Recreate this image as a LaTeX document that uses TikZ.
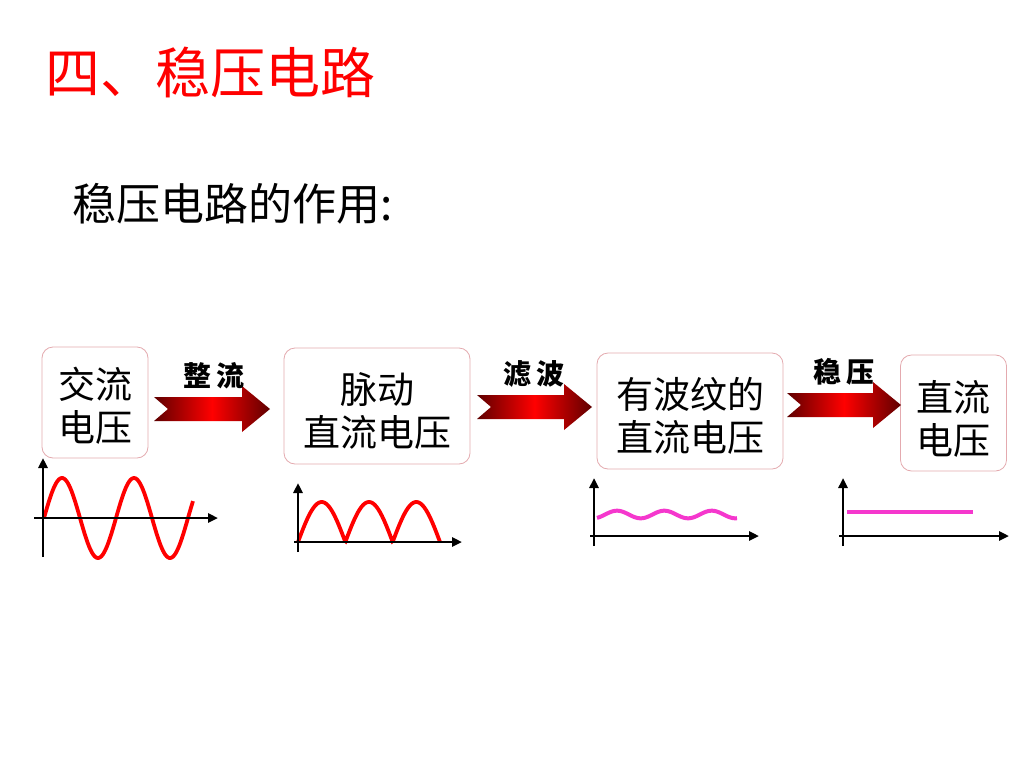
\documentclass[tikz,border=0pt]{standalone}
\usepackage{fontspec}
\newfontfamily\cjk{Noto Sans CJK SC}
\usetikzlibrary{arrows.meta}
\definecolor{boxline}{RGB}{228,170,175}
\definecolor{darkarrow}{RGB}{95,0,0}
\definecolor{pinkline}{RGB}{245,55,205}
\tikzset{
  stagebox/.style={draw=boxline, line width=0.8pt, rounded corners=11pt, fill=white},
  stagetext/.style={font=\cjk\fontsize{37}{43}\selectfont, align=center, inner sep=0pt},
  steplabel/.style={font=\cjk\bfseries\fontsize{28}{30}\selectfont, inner sep=0pt},
  axisline/.style={line width=2.6pt, -{Triangle[length=10pt,width=9pt]}},
  redwave/.style={red, line width=3.8pt},
  pinkwave/.style={pinkline, line width=4pt},
  blockarrow/.style={left color=darkarrow, right color=darkarrow, middle color=red}
}
\newcommand\myblockarrow[3]{% x0, x1, ymid
  \shade[blockarrow] (#1,#3-12) -- (#2-28,#3-12) -- (#2-28,#3-23) -- (#2,#3)
    -- (#2-28,#3+23) -- (#2-28,#3+12) -- (#1,#3+12) -- (#1+14,#3) -- cycle;
}
\begin{document}
\begin{tikzpicture}[x=1pt,y=-1pt]
\useasboundingbox (0,0) rectangle (1024,768);
\fill[white] (0,0) rectangle (1024,768);

% titles
\node[anchor=west, text=red, font=\cjk\fontsize{55}{60}\selectfont, inner sep=0pt] (title) at (45,72) {四、稳压电路};
\node[anchor=west, font=\cjk\fontsize{44}{50}\selectfont, inner sep=0pt] (subtitle) at (72,204) {稳压电路的作用:};

% boxes
\node[stagebox, minimum width=106pt, minimum height=111pt] (b1) at (95,402.5) {};
\node[stagebox, minimum width=186pt, minimum height=116pt] (b2) at (377,406) {};
\node[stagebox, minimum width=186pt, minimum height=116pt] (b3) at (690,411) {};
\node[stagebox, minimum width=106pt, minimum height=116pt] (b4) at (953.5,413) {};

\node[stagetext] (t1) at (95,406) {交流\\电压};
\node[stagetext] (t2) at (377,411) {脉动\\直流电压};
\node[stagetext] (t3) at (690,416) {有波纹的\\直流电压};
\node[stagetext] (t4) at (953.5,419) {直流\\电压};

% block arrows
\myblockarrow{154}{270}{409}
\myblockarrow{477}{592}{407}
\myblockarrow{787}{901}{405}

\node[steplabel] (l1) at (214,376) {整\hspace{5pt}流};
\node[steplabel] (l2) at (534,374) {滤\hspace{5pt}波};
\node[steplabel] (l3) at (844,372) {稳\hspace{5pt}压};

% graph 1: AC sine
\coordinate (g1o) at (43,557);
\coordinate (g1y) at (43,458);
\coordinate (g1a) at (34,518);
\coordinate (g1x) at (218,518);
\draw[redwave] plot[domain=44:193, samples=120, smooth] (\x, {518 - 40*sin((\x-44)*5)});
\draw[axisline] (g1o) -- (g1y);
\draw[axisline] (g1a) -- (g1x);

% graph 2: rectified
\coordinate (g2o) at (298,552);
\coordinate (g2y) at (298,483);
\coordinate (g2a) at (294,542);
\coordinate (g2x) at (462,542);
\draw[redwave] plot[domain=298:440, samples=150] (\x, {542 - 40*abs(sin((\x-298)*3.8028))});
\draw[axisline] (g2o) -- (g2y);
\draw[axisline] (g2a) -- (g2x);

% graph 3: ripple
\coordinate (g3o) at (594,546);
\coordinate (g3y) at (594,478);
\coordinate (g3a) at (590,536);
\coordinate (g3x) at (759,536);
\draw[pinkwave] plot[domain=597:737, samples=100, smooth] (\x, {514.5 - 3.8*sin(90+(\x-617)*7.6)});
\draw[axisline] (g3o) -- (g3y);
\draw[axisline] (g3a) -- (g3x);

% graph 4: flat DC
\coordinate (g4o) at (843,546);
\coordinate (g4y) at (843,478);
\coordinate (g4a) at (839,536);
\coordinate (g4x) at (1009,536);
\coordinate (g4s) at (847,512);
\coordinate (g4e) at (973,512);
\draw[pinkwave] (g4s) -- (g4e);
\draw[axisline] (g4o) -- (g4y);
\draw[axisline] (g4a) -- (g4x);
\end{tikzpicture}
\end{document}
